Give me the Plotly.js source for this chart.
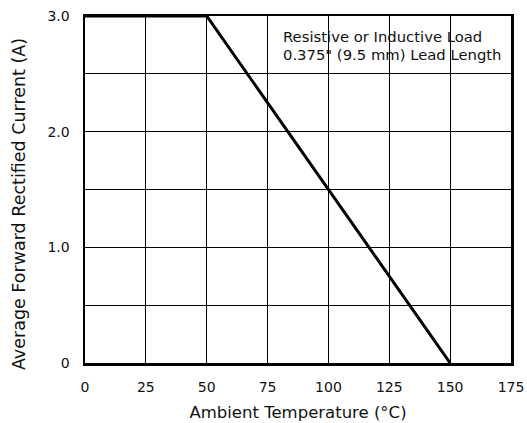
<!DOCTYPE html>
<html>
<head>
<meta charset="utf-8">
<script src="https://cdn.plot.ly/plotly-3.0.1.min.js"></script>
<style>html,body{margin:0;padding:0;background:#fff;}#chart{width:527px;height:423px;}</style>
</head>
<body>
<div id="chart"></div>
<script>
const temperature = [0, 50, 150];
const current = [3.0, 3.0, 0];
const xTicks = [0, 25, 50, 75, 100, 125, 150, 175];
const yTickVals = [0, 0.5, 1.0, 1.5, 2.0, 2.5, 3.0];
const yTickText = ["0", "", "1.0", "", "2.0", "", "3.0"];
const noteLines = ["Resistive or Inductive Load", "0.375\" (9.5 mm) Lead Length"];
const xTitle = 'Ambient Temperature (°C)';
const yTitle = 'Average Forward Rectified Current (A)';

const FONT = 'DejaVu Sans, Liberation Sans, Arial, sans-serif';
const trace = {
  x: temperature, y: current, type: 'scatter', mode: 'lines',
  line: {color: '#000', width: 3}, cliponaxis: false, hoverinfo: 'skip'
};
const layout = {
  width: 527, height: 423,
  margin: {l: 85, r: 16, t: 16, b: 60},
  paper_bgcolor: '#fff', plot_bgcolor: '#fff',
  font: {family: FONT, size: 14, color: '#111'},
  showlegend: false,
  xaxis: {
    range: [0, 175], tickvals: xTicks, ticktext: xTicks.map(String),
    showgrid: true, gridcolor: '#000', gridwidth: 1, zeroline: false,
    showline: true, linecolor: '#000', linewidth: 2.5, mirror: true,
    ticks: '', ticklabelstandoff: 10, tickfont: {size: 14},
    title: {text: xTitle, font: {size: 16.5}, standoff: 12}
  },
  yaxis: {
    range: [0, 3], tickvals: yTickVals, ticktext: yTickText,
    showgrid: true, gridcolor: '#000', gridwidth: 1, zeroline: false,
    showline: true, linecolor: '#000', linewidth: 2.5, mirror: true,
    ticks: '', ticklabelstandoff: 10, tickfont: {size: 14}
  },
  shapes: [{
    type: 'rect', xref: 'paper', yref: 'paper', layer: 'between',
    x0: 0.448, x1: 0.993, y0: 0.841, y1: 0.991,
    fillcolor: '#fff', line: {width: 0}
  }],
  annotations: [
    {xref: 'paper', yref: 'paper', x: 0.459, y: 0.9406, xanchor: 'left', yanchor: 'middle',
     text: noteLines[0], showarrow: false, font: {size: 14.8, color: '#111'}},
    {xref: 'paper', yref: 'paper', x: 0.459, y: 0.8888, xanchor: 'left', yanchor: 'middle',
     text: noteLines[1], showarrow: false, font: {size: 14.8, color: '#111'}},
    {xref: 'paper', yref: 'paper', x: 0, xshift: -66, y: 0.458, xanchor: 'center', yanchor: 'middle',
     text: yTitle, textangle: -90, showarrow: false, font: {size: 17.5, color: '#111'}}
  ]
};
Plotly.newPlot('chart', [trace], layout, {staticPlot: true, displayModeBar: false});
</script>
</body>
</html>
